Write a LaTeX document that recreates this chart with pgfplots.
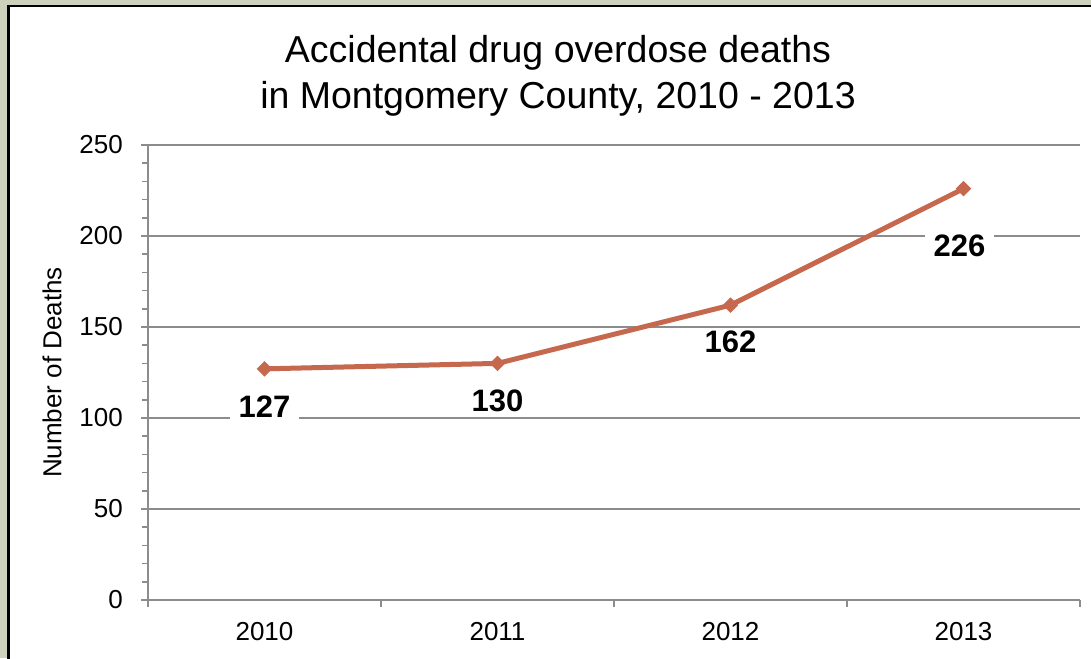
\documentclass[border=0pt]{standalone}
\usepackage{fontspec}
\setmainfont{Liberation Sans}
\usepackage{pgfplots}
\usepackage{pgfplotstable}
\pgfplotsset{compat=1.18}
\definecolor{bgc}{RGB}{206,209,188}
\definecolor{linec}{RGB}{198,104,78}
\definecolor{gridc}{RGB}{140,140,140}
\pgfplotstableread{
x y off dx lab
0 127 37.5 0 127
1 130 37.5 0 130
2 162 37 0 162
3 226 57 -4 226
}\deaths
\begin{document}
\begin{tikzpicture}[x=1pt,y=1pt]
\path[use as bounding box] (0,0) rectangle (1091,658);
\fill[bgc] (0,0) rectangle (1091,658);
\filldraw[fill=white, draw=black, line width=2.5pt] (8.7,-20) rectangle (1120,651.8);
\node[anchor=base, inner sep=0pt, font=\fontsize{37.5}{40}\selectfont] at (558,595) {Accidental drug overdose deaths};
\node[anchor=base, inner sep=0pt, font=\fontsize{37.5}{40}\selectfont] at (558,549) {in Montgomery County, 2010 - 2013};
\begin{axis}[at={(148pt,58pt)}, anchor=south west, scale only axis,
  width=932pt, height=455pt,
  xmin=-0.5, xmax=3.5, ymin=0, ymax=250,
  axis x line*=bottom, axis y line*=left,
  axis line style={gridc, line width=1.8pt},
  xtick={-0.5,0.5,1.5,2.5,3.5}, xticklabels={},
  extra x ticks={0,1,2,3}, extra x tick labels={2010,2011,2012,2013},
  extra x tick style={major tick length=0pt, grid=none},
  ytick={0,50,...,250}, minor y tick num=4,
  tick align=outside, major tick length=7pt, minor tick length=6pt,
  tick style={gridc, line width=1.5pt},
  ymajorgrids, grid style={gridc, line width=1.7pt},
  /pgf/number format/assume math mode=true,
  yticklabel style={font=\fontsize{26}{26}\selectfont, inner sep=0pt, xshift=-18pt},
  xticklabel style={font=\fontsize{26}{26}\selectfont, inner sep=0pt, yshift=-22pt},
  ylabel={Number of Deaths},
  ylabel style={at={(axis description cs:-0.103,0.5)}, anchor=center, inner sep=0pt, font=\fontsize{26}{26}\selectfont},
  clip=false,
]
\addplot[linec, line width=5pt, mark=square*, mark size=5pt,
  mark options={rotate=45, solid, fill=linec, line width=1pt},
  visualization depends on={\thisrow{off}\as\myoff},
  visualization depends on={\thisrow{dx}\as\mydx},
  point meta=explicit symbolic,
  nodes near coords,
  every node near coord/.append style={font=\bfseries\fontsize{31}{31}\selectfont, fill=white, text=black, inner xsep=9pt, inner ysep=3pt, anchor=center, yshift=-\myoff pt, xshift=\mydx pt},
] table[x=x, y=y, meta=lab] {\deaths};
\end{axis}
\end{tikzpicture}
\end{document}
